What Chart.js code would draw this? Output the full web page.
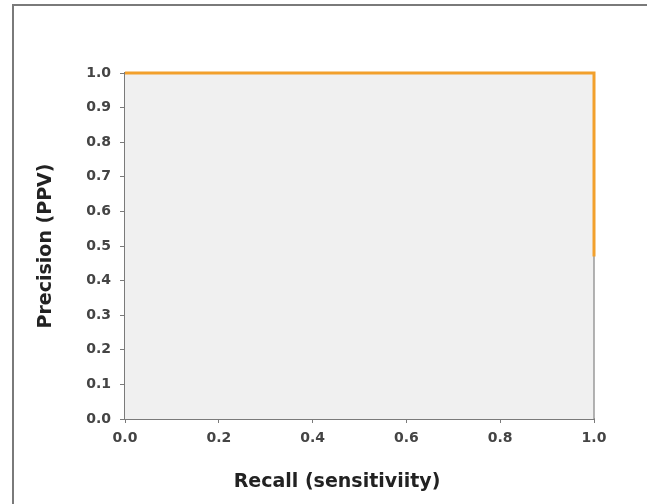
<!DOCTYPE html>
<html lang="en">
<head>
    <meta charset="UTF-8">
    <title>Precision / Recall</title>
    <script src="https://cdn.jsdelivr.net/npm/chart.js"></script>
    <style>
        html, body {
            margin: 0;
            padding: 0;
            background: #ffffff;
        }
        .wrap {
            position: relative;
            width: 647px;
            height: 504px;
        }
        .frame {
            position: absolute;
            left: 12px;
            top: 4px;
            right: 0;
            bottom: 0;
            border-top: 2px solid #7a7a7a;
            border-left: 2px solid #7a7a7a;
            pointer-events: none;
        }
        canvas {
            position: absolute;
            left: 0;
            top: 0;
        }
    </style>
</head>
<body>
    <div class="wrap">
        <canvas id="prChart" width="647" height="504"></canvas>
        <div class="frame"></div>
    </div>
    <script>
        // curve points
        const recall = [0, 1, 1];
        const precision = [1, 1, 0.47];
        const xTicks = [0, 0.2, 0.4, 0.6, 0.8, 1.0];
        const yTicks = [0, 0.1, 0.2, 0.3, 0.4, 0.5, 0.6, 0.7, 0.8, 0.9, 1.0];

        const xTitle = 'Recall (sensitiviity)';
        const yTitle = 'Precision (PPV)';

        const points = recall.map((r, i) => ({ x: r, y: precision[i] }));

        // grey plot background, right border, and the two axis titles
        const plotDecor = {
            id: 'plotDecor',
            beforeDatasetsDraw(chart) {
                const { ctx, chartArea: a } = chart;
                ctx.save();
                ctx.fillStyle = '#f0f0f0';
                ctx.fillRect(a.left, a.top, a.right - a.left, a.bottom - a.top);
                ctx.strokeStyle = '#9a9a9a';
                ctx.lineWidth = 1.5;
                ctx.beginPath();
                ctx.moveTo(a.right, a.top);
                ctx.lineTo(a.right, a.bottom);
                ctx.stroke();
                ctx.restore();
            },
            afterDraw(chart) {
                const { ctx, chartArea: a } = chart;
                ctx.save();
                ctx.fillStyle = '#222';
                ctx.font = 'bold 19px "DejaVu Sans", Verdana, sans-serif';
                ctx.textAlign = 'center';
                ctx.textBaseline = 'middle';
                ctx.fillText(xTitle, a.left + 212, a.bottom + 63);
                ctx.translate(46, (a.top + a.bottom) / 2);
                ctx.rotate(-Math.PI / 2);
                ctx.fillText(yTitle, 0, 0);
                ctx.restore();
            }
        };

        const ctx = document.getElementById('prChart').getContext('2d');
        const prChart = new Chart(ctx, {
            type: 'scatter',
            data: {
                datasets: [{
                    data: points,
                    showLine: true,
                    borderColor: '#f2a02c',
                    borderWidth: 3,
                    pointRadius: 0,
                    tension: 0,
                    clip: 6
                }]
            },
            options: {
                responsive: false,
                animation: false,
                layout: {
                    padding: { left: 0, top: 73, right: 53, bottom: 0 }
                },
                plugins: {
                    legend: { display: false },
                    tooltip: { enabled: false }
                },
                scales: {
                    x: {
                        type: 'linear',
                        min: 0,
                        max: 1,
                        afterFit(scale) { scale.height = 85; },
                        afterBuildTicks(scale) { scale.ticks = xTicks.map(v => ({ value: v })); },
                        grid: {
                            drawOnChartArea: false,
                            drawTicks: true,
                            tickLength: 4,
                            tickColor: '#7a7a7a'
                        },
                        border: { color: '#7a7a7a', width: 2 },
                        ticks: {
                            padding: 7,
                            color: '#444',
                            font: { family: '"DejaVu Sans", Verdana, sans-serif', size: 14, weight: 'bold' },
                            callback: v => v.toFixed(1)
                        }
                    },
                    y: {
                        type: 'linear',
                        min: 0,
                        max: 1,
                        afterFit(scale) { scale.width = 125; },
                        afterBuildTicks(scale) { scale.ticks = yTicks.map(v => ({ value: v })); },
                        grid: {
                            drawOnChartArea: false,
                            drawTicks: true,
                            tickLength: 5,
                            tickColor: '#7a7a7a'
                        },
                        border: { color: '#7a7a7a', width: 2 },
                        ticks: {
                            padding: 9,
                            color: '#444',
                            font: { family: '"DejaVu Sans", Verdana, sans-serif', size: 14, weight: 'bold' },
                            callback: v => v.toFixed(1)
                        }
                    }
                }
            },
            plugins: [plotDecor]
        });
    </script>
</body>
</html>
